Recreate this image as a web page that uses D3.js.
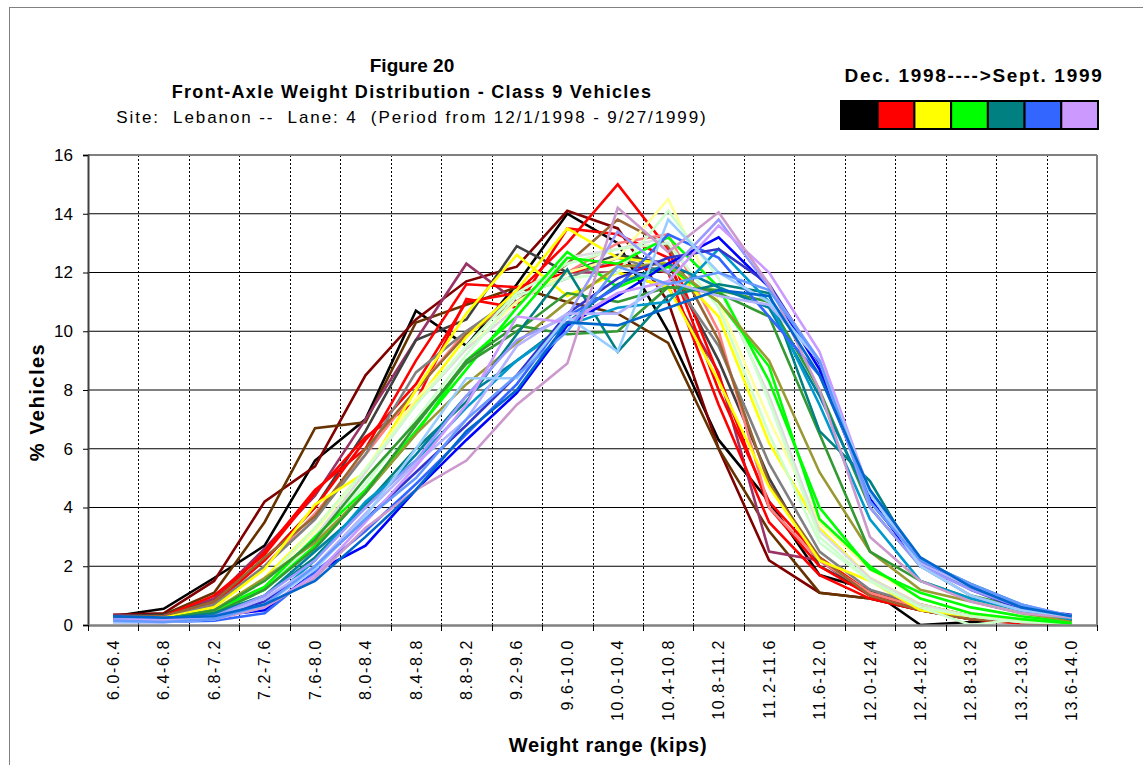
<!DOCTYPE html>
<html><head><meta charset="utf-8">
<script src="https://cdn.jsdelivr.net/npm/d3@7"></script>
<style>
body{margin:0;background:#fff}
svg{display:block}
text{font-family:Arial,"Liberation Sans",sans-serif;fill:#000}
</style>
</head><body>
<svg id="chart" width="1143" height="765"></svg>
<script>
// ---------- DATA ----------
const categories = ["6.0-6.4","6.4-6.8","6.8-7.2","7.2-7.6","7.6-8.0","8.0-8.4","8.4-8.8","8.8-9.2","9.2-9.6","9.6-10.0",
  "10.0-10.4","10.4-10.8","10.8-11.2","11.2-11.6","11.6-12.0","12.0-12.4","12.4-12.8","12.8-13.2","13.2-13.6","13.6-14.0"];
const yTicks = [0,2,4,6,8,10,12,14,16];
const legendTitle = "Dec. 1998---->Sept. 1999";
const legendColors = ["#000000","#FF0000","#FFFF00","#00FF00","#008080","#3366FF","#CC99FF"];

// weekly series, Dec. 1998 -> Sept. 1999 (colour of each week's line)
const seriesColors = [
  "#000000","#800000","#663300","#993366","#404040","#FF0000","#FF0000","#FF0000","#FF8080","#808080",
  "#996633","#FFFF00","#FFFF00","#FFFF99","#DDDDDD","#CCFFCC","#CCFFCC","#00FF00","#00FF00","#999933",
  "#339933","#339933","#008080","#0080A0","#0099CC","#0000FF","#3366FF","#3333CC","#9999FF","#B3B3FF",
  "#CC99FF","#CC99CC","#99CCFF","#6699FF","#0066CC"
];
const seriesValues = [
  [0.30,0.55,1.60,2.70,5.60,7.00,10.7,9.50,11.6,14.0,13.0,10.0,6.30,4.20,1.70,1.20,0.00,0.10,0.10,0.05],
  [0.35,0.40,1.50,4.20,5.40,8.50,10.4,11.7,12.2,14.1,13.5,11.0,6.00,2.20,1.10,0.90,0.50,0.20,0.10,0.05],
  [0.30,0.35,1.10,3.50,6.70,6.90,10.3,10.9,11.5,11.0,10.6,9.60,6.00,3.20,1.10,0.90,0.50,0.20,0.10,0.10],
  [0.35,0.30,0.90,2.60,4.40,7.00,9.70,12.3,11.0,12.0,12.0,11.5,8.60,2.50,2.20,1.00,0.60,0.30,0.10,0.05],
  [0.30,0.35,0.80,2.20,4.00,6.60,9.70,10.4,12.9,12.0,12.6,12.3,9.00,5.00,2.00,1.10,0.70,0.30,0.10,0.05],
  [0.25,0.30,0.70,2.20,4.00,6.30,8.20,11.0,11.3,13.0,15.0,12.8,8.50,4.00,2.00,1.00,0.60,0.30,0.10,0.05],
  [0.20,0.25,0.80,2.50,4.60,6.00,9.00,11.6,11.5,12.0,12.3,12.0,7.50,3.50,1.70,0.90,0.50,0.20,0.05,0.05],
  [0.30,0.30,1.00,2.40,4.50,6.40,7.60,11.1,10.8,13.5,13.3,12.5,8.00,4.20,2.30,1.10,0.60,0.30,0.10,0.05],
  [0.20,0.20,0.60,2.00,3.80,5.80,8.00,10.0,11.0,12.0,13.0,13.3,10.0,4.00,2.20,1.10,0.60,0.30,0.10,0.05],
  [0.25,0.30,0.70,2.00,3.60,5.80,8.60,10.0,11.2,11.8,12.5,12.0,9.50,5.50,2.50,1.20,0.70,0.30,0.10,0.05],
  [0.30,0.30,0.80,2.30,3.70,6.00,8.00,9.90,11.0,12.3,13.8,12.9,9.70,4.80,2.30,1.00,0.50,0.20,0.10,0.05],
  [0.20,0.25,0.60,1.90,4.10,5.20,8.00,10.6,12.6,11.2,12.0,11.5,8.30,4.70,2.20,1.50,0.50,0.30,0.20,0.05],
  [0.15,0.20,0.50,1.60,3.30,5.30,7.60,9.80,11.4,13.5,12.5,12.3,10.5,6.20,3.30,1.60,0.70,0.30,0.15,0.05],
  [0.15,0.20,0.50,1.50,3.20,5.30,7.70,9.40,11.0,12.0,12.5,14.5,11.0,7.00,3.50,1.90,0.90,0.40,0.20,0.10],
  [0.15,0.15,0.40,1.30,3.00,5.20,7.50,9.40,10.8,12.5,12.8,13.2,11.5,7.80,3.20,1.60,0.70,0.30,0.10,0.05],
  [0.15,0.15,0.40,1.20,2.90,4.80,7.00,9.20,11.2,11.8,12.0,14.1,11.8,7.60,3.00,1.50,0.60,0.00,0.20,0.05],
  [0.20,0.20,0.50,1.50,3.30,5.30,7.50,9.50,11.3,12.3,12.8,13.0,10.8,6.50,2.80,1.50,0.60,0.30,0.10,0.05],
  [0.15,0.15,0.40,1.20,2.70,4.50,6.50,9.00,10.5,12.5,12.3,13.2,11.5,8.30,4.00,1.90,1.10,0.60,0.30,0.10],
  [0.20,0.20,0.50,1.30,3.00,4.60,6.60,8.70,10.8,12.7,11.5,12.2,11.0,8.80,3.60,2.00,0.90,0.40,0.20,0.05],
  [0.20,0.20,0.50,1.60,2.80,4.50,6.50,8.20,9.60,11.0,12.2,12.3,11.0,9.00,5.20,2.50,1.20,0.80,0.40,0.15],
  [0.20,0.20,0.40,1.20,2.60,4.50,6.80,9.00,10.2,9.90,10.0,11.5,11.4,11.0,8.00,4.00,2.00,1.00,0.60,0.20],
  [0.25,0.20,0.50,1.50,2.90,5.00,6.90,8.90,10.0,11.3,11.0,11.5,11.3,10.5,6.50,2.50,1.50,0.90,0.50,0.20],
  [0.20,0.20,0.40,1.00,2.30,4.10,6.00,7.60,9.90,12.1,9.30,11.2,11.6,11.3,6.60,4.90,2.00,1.30,0.60,0.20],
  [0.20,0.15,0.35,1.00,2.50,4.00,5.80,7.80,9.00,10.3,11.6,12.3,11.5,10.8,7.80,4.20,2.20,1.40,0.70,0.25],
  [0.15,0.15,0.30,0.70,2.20,4.20,5.60,7.40,9.00,10.2,10.8,11.0,12.8,11.0,7.50,3.60,1.50,0.90,0.50,0.20],
  [0.20,0.20,0.30,0.50,1.80,2.70,4.60,6.30,7.90,10.2,11.2,12.3,13.2,11.5,8.70,4.30,2.00,1.30,0.50,0.30],
  [0.10,0.10,0.15,0.40,1.80,3.20,4.80,6.50,8.20,10.5,11.5,13.3,12.5,10.5,8.50,4.50,2.00,1.30,0.60,0.30],
  [0.20,0.15,0.30,0.80,2.00,3.60,5.20,6.80,8.50,10.6,11.8,12.5,12.8,11.6,8.90,4.20,2.20,1.20,0.55,0.35],
  [0.20,0.20,0.30,1.00,2.20,4.00,5.60,7.80,9.70,10.5,13.4,12.0,13.8,11.5,9.00,4.00,2.00,1.20,0.60,0.30],
  [0.15,0.15,0.25,0.90,2.00,3.80,5.50,7.00,9.50,10.6,10.6,11.7,11.2,10.9,9.00,4.50,2.10,1.30,0.70,0.30],
  [0.15,0.15,0.20,0.60,1.70,3.50,5.40,7.50,10.5,10.3,11.3,11.7,13.6,12.0,9.30,4.50,2.00,1.00,0.50,0.30],
  [0.10,0.10,0.20,0.60,1.60,3.30,4.60,5.60,7.50,8.90,14.2,12.7,14.05,11.6,8.00,3.00,1.50,0.80,0.40,0.25],
  [0.10,0.10,0.20,0.70,1.90,3.70,6.00,8.40,8.40,10.5,9.30,13.8,12.0,11.0,9.00,4.50,2.00,1.00,0.50,0.30],
  [0.15,0.10,0.20,0.70,2.00,3.60,5.00,7.00,8.50,10.0,12.2,11.6,12.0,11.4,9.00,4.20,2.20,1.40,0.70,0.30],
  [0.30,0.25,0.30,0.70,1.50,3.00,4.60,6.60,8.00,10.3,10.2,10.8,11.4,11.2,8.50,4.60,2.30,1.30,0.60,0.30]
];

// ---------- CHART ----------
const svg = d3.select("#chart");
const plot = {left:88, right:1097, top:155, bottom:625};
const FONT = "Arial, 'Liberation Sans', sans-serif";

// outer frame
svg.append("rect").attr("x",9.5).attr("y",7.5).attr("width",1200).attr("height",800)
  .attr("fill","none").attr("stroke","#808080").attr("stroke-width",1);

const x = d3.scaleBand().domain(categories).range([plot.left, plot.right]).paddingInner(0).paddingOuter(0);
const cx = c => x(c) + x.bandwidth()/2;
const y = d3.scaleLinear().domain([0,16]).range([plot.bottom, plot.top]);

// horizontal gridlines
svg.append("g").selectAll("line").data(yTicks.filter(t => t>0 && t<16)).join("line")
  .attr("x1",plot.left).attr("x2",plot.right)
  .attr("y1",d=>y(d)).attr("y2",d=>y(d))
  .attr("stroke","#000").attr("stroke-width",1);

// vertical dotted gridlines at band boundaries
const bounds = categories.slice(1).map(c => x(c));
svg.append("g").selectAll("line").data(bounds).join("line")
  .attr("x1",d=>Math.round(d)+0.5).attr("x2",d=>Math.round(d)+0.5)
  .attr("y1",plot.top).attr("y2",plot.bottom)
  .attr("stroke","#000").attr("stroke-width",1).attr("stroke-dasharray","2,2");

// plot frame (top and right)
svg.append("line").attr("x1",plot.left).attr("x2",plot.right).attr("y1",plot.top).attr("y2",plot.top)
  .attr("stroke","#808080").attr("stroke-width",2);
svg.append("line").attr("x1",plot.right).attr("x2",plot.right).attr("y1",plot.top).attr("y2",plot.bottom)
  .attr("stroke","#808080").attr("stroke-width",2);

// series lines
const line = d3.line().x((d,i)=>cx(categories[i])).y(d=>y(d));
svg.append("g").selectAll("path").data(seriesValues).join("path")
  .attr("d", line)
  .attr("fill","none")
  .attr("stroke",(d,i)=>seriesColors[i])
  .attr("stroke-width",2.6)
  .attr("stroke-linejoin","miter");

// y axis
const yAxis = svg.append("g").attr("transform",`translate(${plot.left},0)`)
  .call(d3.axisLeft(y).tickValues(yTicks).tickSize(5).tickPadding(10));
yAxis.select(".domain").attr("stroke","#404040").attr("stroke-width",2);
yAxis.selectAll(".tick line").attr("stroke","#000");
yAxis.selectAll(".tick text").attr("font-size","17px").attr("fill","#000").style("font-family",FONT);

// x axis
const xAxis = svg.append("g").attr("transform",`translate(0,${plot.bottom})`)
  .call(d3.axisBottom(x).tickSize(0).tickPadding(0));
xAxis.select(".domain").attr("stroke","#808080").attr("stroke-width",2.5);
xAxis.selectAll(".tick text")
  .attr("font-size","16px").attr("fill","#000")
  .style("font-family",FONT)
  .attr("letter-spacing","1.6px")
  .attr("text-anchor","end")
  .attr("transform","translate(0,14) rotate(-90)")
  .attr("x",0).attr("y",0).attr("dy","0.35em");
// boundary tick marks
const bTicks = categories.map(c=>x(c)).concat([plot.right]);
svg.append("g").selectAll("line").data(bTicks).join("line")
  .attr("x1",d=>Math.round(d)+0.5).attr("x2",d=>Math.round(d)+0.5)
  .attr("y1",plot.bottom).attr("y2",plot.bottom+6)
  .attr("stroke","#000").attr("stroke-width",1);

// titles
const tx = 412;
svg.append("text").attr("x",tx).attr("y",72).attr("text-anchor","middle")
  .attr("font-size","19px").attr("font-weight","bold").attr("letter-spacing","0px").text("Figure 20");
svg.append("text").attr("x",tx).attr("y",98).attr("text-anchor","middle")
  .attr("font-size","18px").attr("font-weight","bold").attr("letter-spacing","1.3px")
  .text("Front-Axle Weight Distribution - Class 9 Vehicles");
svg.append("text").attr("x",tx).attr("y",123).attr("text-anchor","middle")
  .attr("font-size","17px").attr("letter-spacing","1.9px").attr("xml:space","preserve").style("white-space","pre")
  .text("Site:  Lebanon --  Lane: 4  (Period from 12/1/1998 - 9/27/1999)");

// axis titles
svg.append("text").attr("transform","translate(44,402) rotate(-90)").attr("text-anchor","middle")
  .attr("font-size","20px").attr("font-weight","bold").attr("letter-spacing","1.5px").text("% Vehicles");
svg.append("text").attr("x",608).attr("y",752).attr("text-anchor","middle")
  .attr("font-size","20px").attr("font-weight","bold").attr("letter-spacing","0.7px").text("Weight range (kips)");

// legend
svg.append("text").attr("x",974).attr("y",82).attr("text-anchor","middle")
  .attr("font-size","19px").attr("font-weight","bold").attr("letter-spacing","1.7px").text(legendTitle);
const lx = d3.scaleBand().domain(d3.range(legendColors.length)).range([841,1098]);
svg.append("g").selectAll("rect").data(legendColors).join("rect")
  .attr("x",(d,i)=>lx(i)).attr("y",101).attr("width",lx.bandwidth()).attr("height",28)
  .attr("fill",d=>d).attr("stroke","#000").attr("stroke-width",2);
</script>
</body></html>
